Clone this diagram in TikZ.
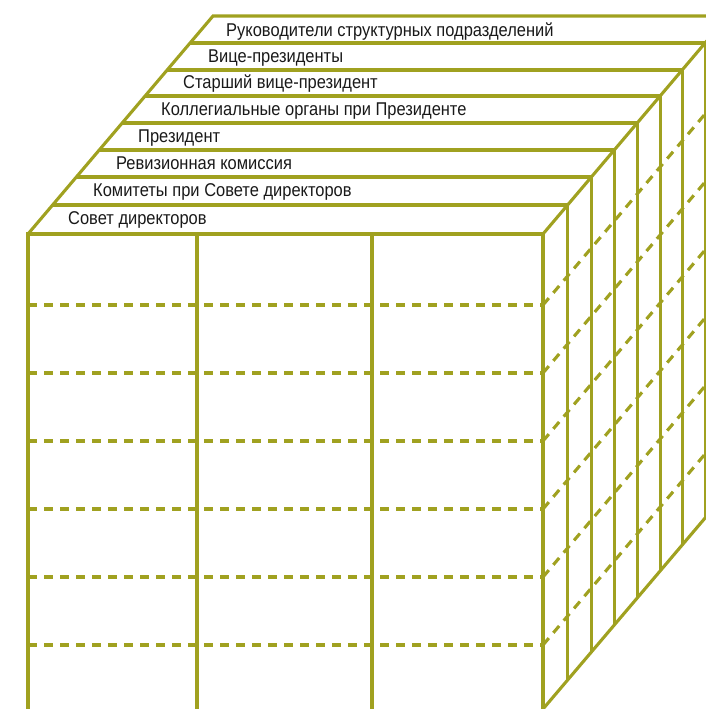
\documentclass[tikz,border=0pt]{standalone}
\usepackage{fontspec}
\setmainfont{Liberation Sans}[FakeStretch=0.89]
\definecolor{cubeline}{RGB}{160,161,32}
\tikzset{
	cubeedge/.style={cubeline,line width=3.1pt},
	cubecut/.style={cubeline,line width=3.1pt,dash pattern=on 9pt off 7pt},
	tier/.style={anchor=base west,inner sep=0pt,text=black!90,font=\fontsize{18.5}{20}\selectfont}
}

\begin{document}
\begin{tikzpicture}[x=1pt,y=1pt]
	\path[use as bounding box] (0,0) rectangle (706,709);
	\clip (0,0) rectangle (706,709);
	% dashed rows on the front face
	\draw[cubecut] (28,404) -- (543,404);
	\draw[cubecut] (28,336) -- (543,336);
	\draw[cubecut] (28,268) -- (543,268);
	\draw[cubecut] (28,200) -- (543,200);
	\draw[cubecut] (28,132) -- (543,132);
	\draw[cubecut] (28,64) -- (543,64);
	% the same rows running back along the side
	\draw[cubecut] (543,404) -- ++(185,218);
	\draw[cubecut] (543,336) -- ++(185,218);
	\draw[cubecut] (543,268) -- ++(185,218);
	\draw[cubecut] (543,200) -- ++(185,218);
	\draw[cubecut] (543,132) -- ++(185,218);
	\draw[cubecut] (543,64) -- ++(185,218);
	% front face
	\draw[cubeedge] (28,-3) -- (28,475) -- (543,475) -- (543,-3);
	\draw[cubeedge] (197,-3) -- (197,475);
	\draw[cubeedge] (372,-3) -- (372,475);
	% edges of the cube going back
	\draw[cubeedge] (28,475) -- (213,693) -- (728,693) -- (543,475);
	\draw[cubeedge] (543,0) -- (728,218);
	% top strips, one per level
	\draw[cubeedge] (52.6,504) -- (567.6,504) -- (567.6,29);
	\draw[cubeedge] (76.4,532) -- (591.4,532) -- (591.4,57);
	\draw[cubeedge] (99.3,559) -- (614.3,559) -- (614.3,84);
	\draw[cubeedge] (122.2,586) -- (637.2,586) -- (637.2,111);
	\draw[cubeedge] (145.1,613) -- (660.1,613) -- (660.1,138);
	\draw[cubeedge] (167.2,639) -- (682.2,639) -- (682.2,164);
	\draw[cubeedge] (190.1,666) -- (705.1,666) -- (705.1,191);
	% level names
	\node[tier] (sovet) at (68,484) {Совет директоров};
	\node[tier] (komitety) at (93,512) {Комитеты при Совете директоров};
	\node[tier] (revizia) at (116,539.5) {Ревизионная комиссия};
	\node[tier] (prezident) at (138,566.5) {Президент};
	\node[tier] (kollegia) at (161,593) {Коллегиальные органы при Президенте};
	\node[tier] (starshiy) at (183,620) {Старший вице-президент};
	\node[tier] (vice) at (208,646.5) {Вице-президенты};
	\node[tier] (rukovod) at (226,672.5) {Руководители структурных подразделений};
\end{tikzpicture}
\end{document}
